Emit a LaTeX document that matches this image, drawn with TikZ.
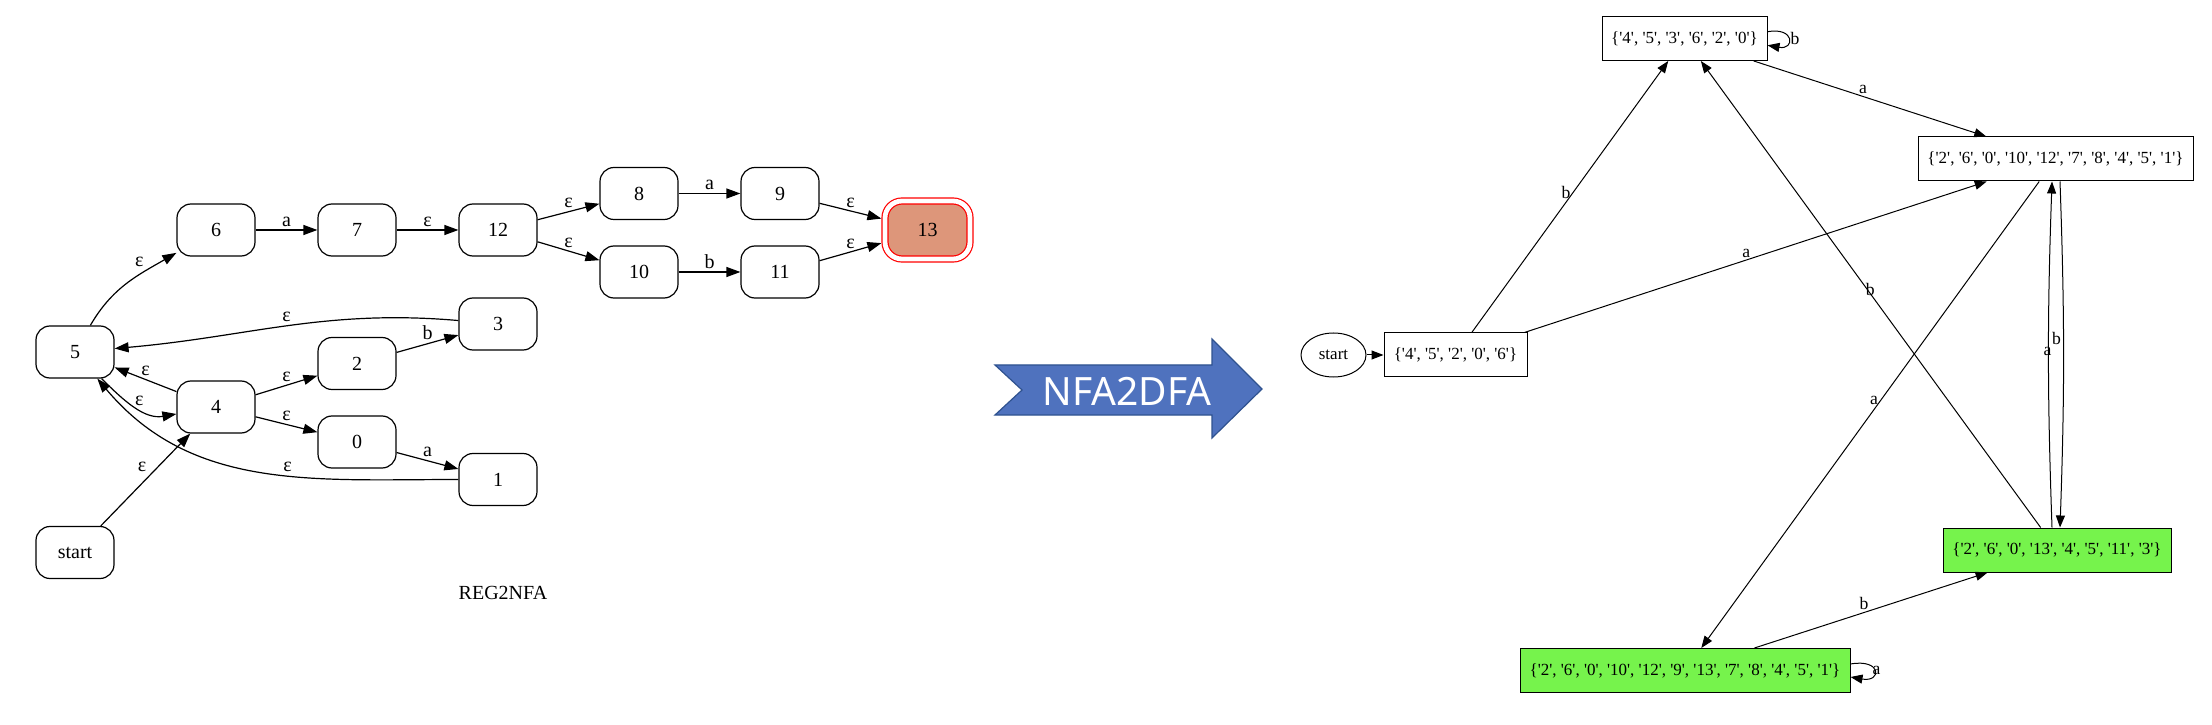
\documentclass[tikz,border=0pt]{standalone}
\usepackage{fontspec}
\setmainfont{Liberation Serif}
\newfontfamily\dfafont{Liberation Serif}[Ligatures=TeXOff]
\newfontfamily\bannerfont{Noto Sans}
\usepackage{xcolor}
\definecolor{salmon}{RGB}{221,150,122}
\definecolor{accgreen}{RGB}{118,243,76}
\definecolor{bannerblue}{RGB}{79,114,190}
\definecolor{bannerline}{RGB}{47,82,143}
\usepackage{tikz}
\usetikzlibrary{arrows.meta, shapes.geometric, calc}
\tikzstyle{state} = [draw, rectangle, rounded corners=7pt, minimum width=39pt, minimum height=26pt, inner sep=0pt, line width=0.6pt, font=\fontsize{10}{12}\selectfont]
\tikzstyle{accept} = [state, fill=salmon, draw=red, double=white, double distance=2.4pt, minimum width=42.5pt, minimum height=29pt, rounded corners=8.5pt, outer sep=1.8pt]
\tikzstyle{dstate} = [draw, rectangle, minimum height=22pt, inner sep=0pt, line width=0.5pt, font=\dfafont\fontsize{8.5}{10}\selectfont]
\tikzstyle{trans} = [-{Triangle[length=7pt, width=5pt]}, line width=0.6pt]
\tikzstyle{dtrans} = [-{Triangle[length=6pt, width=4.5pt]}, line width=0.5pt]
\tikzstyle{lbl} = [inner sep=1.5pt, font=\fontsize{10}{12}\selectfont]
\tikzstyle{dlbl} = [inner sep=1pt, font=\fontsize{8.8}{10}\selectfont]

\begin{document}
\begin{tikzpicture}[x=0.5pt, y=0.5pt]
    \useasboundingbox (0,0) rectangle (2212,724);

    % NFA states
    \node[state] (start) at (75,171.5) {start};
    \node[state] (n5) at (75,372) {5};
    \node[state] (n6) at (216,494) {6};
    \node[state] (n4) at (216,317) {4};
    \node[state] (n7) at (357,494) {7};
    \node[state] (n2) at (357,360.5) {2};
    \node[state] (n0) at (357,282) {0};
    \node[state] (n12) at (498,494) {12};
    \node[state] (n3) at (498,400) {3};
    \node[state] (n1) at (498,244.5) {1};
    \node[state] (n8) at (639,530.5) {8};
    \node[state] (n10) at (639,452) {10};
    \node[state] (n9) at (780,530.5) {9};
    \node[state] (n11) at (780,452) {11};
    \node[accept] (n13) at (927.5,494) {13};
    \node[font=\fontsize{10}{12}\selectfont] (reg) at (503,131) {REG2NFA};

    % NFA transitions
    \draw[trans] (start) -- node[lbl, pos=0.55, above left] {ε} (n4);
    \draw[trans] (n5) to[out=60, in=210] node[lbl, pos=0.72, above left] {ε} (n6);
    \draw[trans] (n5) to[out=-45, in=190] node[lbl, pos=0.55, above] {ε} (n4);
    \draw[trans] (n4) -- node[lbl, above] {ε} (n5);
    \draw[trans] (n4) -- node[lbl, above] {ε} (n2);
    \draw[trans] (n4) -- node[lbl, above] {ε} (n0);
    \draw[trans] (n2) -- node[lbl, above] {b} (n3);
    \draw[trans] (n0) -- node[lbl, above] {a} (n1);
    \draw[trans] (n3) to[out=175, in=5] node[lbl, above] {ε} (n5);
    \draw[trans] (n1) to[out=180, in=-50] node[lbl, pos=0.42, above] {ε} (n5);
    \draw[trans] (n6) -- node[lbl, above] {a} (n7);
    \draw[trans] (n7) -- node[lbl, above] {ε} (n12);
    \draw[trans] (n12) -- node[lbl, above] {ε} (n8);
    \draw[trans] (n12) -- node[lbl, above] {ε} (n10);
    \draw[trans] (n8) -- node[lbl, above] {a} (n9);
    \draw[trans] (n10) -- node[lbl, above] {b} (n11);
    \draw[trans] (n9) -- node[lbl, above] {ε} (n13);
    \draw[trans] (n11) -- node[lbl, above] {ε} (n13);

    % conversion arrow
    \draw[fill=bannerblue, draw=bannerline, line width=0.6pt]
        (995,359) -- (1212,359) -- (1212,385) -- (1262,335) -- (1212,286)
        -- (1212,309) -- (995,309) -- (1022,334) -- cycle;
    \node[text=white, font=\bannerfont\fontsize{19.5}{22}\selectfont] (conv) at (1127,333) {NFA2DFA};

    % DFA states
    \node[draw, ellipse, minimum width=32.5pt, minimum height=22pt, inner sep=0pt, line width=0.5pt, font=\fontsize{8.5}{10}\selectfont] (dstart) at (1333.5,369) {start};
    \node[dstate, minimum width=71.5pt] (d0) at (1455.5,369) {\{'4', '5', '2', '0', '6'\}};
    \node[dstate, minimum width=82.5pt] (d1) at (1684.5,685.5) {\{'4', '5', '3', '6', '2', '0'\}};
    \node[dstate, minimum width=137.5pt] (d2) at (2055.5,565) {\{'2', '6', '0', '10', '12', '7', '8', '4', '5', '1'\}};
    \node[dstate, fill=accgreen, minimum width=114pt] (d3) at (2057,174) {\{'2', '6', '0', '13', '4', '5', '11', '3'\}};
    \node[dstate, fill=accgreen, minimum width=165pt] (d4) at (1685,53.5) {\{'2', '6', '0', '10', '12', '9', '13', '7', '8', '4', '5', '1'\}};

    % DFA transitions
    \draw[dtrans] (dstart) -- (d0);
    \draw[dtrans] (d0) -- node[dlbl, pos=0.515, left] {b} (d1);
    \draw[dtrans] (d0) -- node[dlbl, pos=0.48, above] {a} (d2);
    \draw[dtrans] (d1) -- node[dlbl, pos=0.47, above] {a} (d2);
    \draw[dtrans] ([yshift=3.4pt]d1.east) to[out=10, in=-10, min distance=14pt] node[dlbl, right] {b} ([yshift=-3.4pt]d1.east);
    \draw[dtrans] (d2) -- node[dlbl, pos=0.47, left] {a} (d4);
    \draw[dtrans] ([xshift=2.25pt]d2.south) to[bend left=2] node[dlbl, pos=0.45, left] {b} ([xshift=1.5pt]d3.north);
    \draw[dtrans] ([xshift=-2.5pt]d3.north) to[bend left=2] node[dlbl, pos=0.51, xshift=-0.5pt] {a} ([xshift=-1.75pt]d2.south);
    \draw[dtrans] (d3) -- node[dlbl, pos=0.51, xshift=1.5pt] {b} (d1);
    \draw[dtrans] (d4) -- node[dlbl, pos=0.47, above] {b} (d3);
    \draw[dtrans] ([yshift=3.25pt]d4.east) to[out=10, in=-10, min distance=16pt] node[dlbl, right=-2pt] {a} ([yshift=-3.25pt]d4.east);
\end{tikzpicture}
\end{document}
